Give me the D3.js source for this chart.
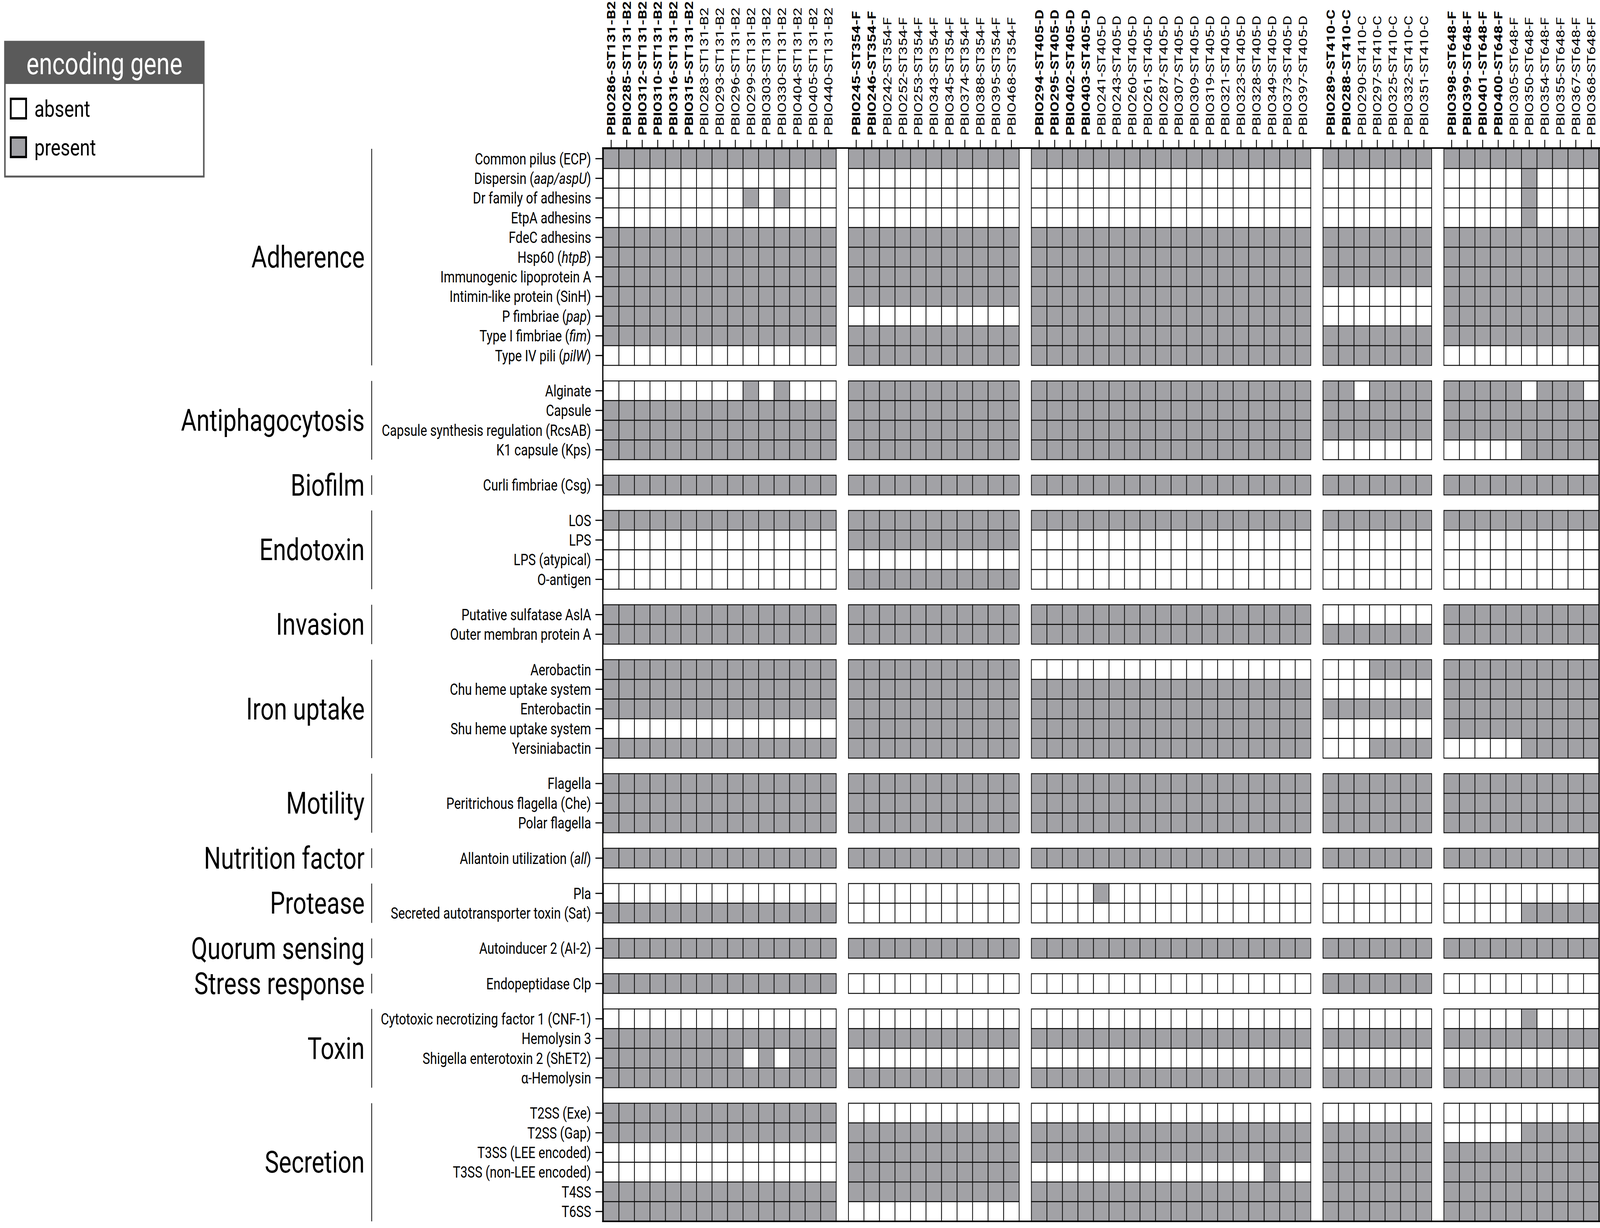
<!DOCTYPE html>
<html>
<head>
<meta charset="utf-8">
<script src="https://cdn.jsdelivr.net/npm/d3@7"></script>
<style>
  html, body { margin: 0; padding: 0; background: #ffffff; overflow: hidden; width: 100%; height: 100%; }
  svg { display: block; width: 100vw; height: 100vh; }
  svg text { font-family: Roboto, "Fira Sans", Lato, sans-serif; }
</style>
</head>
<body>
<svg id="chart" viewBox="0 0 5213 3144" preserveAspectRatio="none"></svg>
<script>
// ---------------- DATA ----------------
const strainGroups = ["ST131-B2", "ST354-F", "ST405-D", "ST410-C", "ST648-F"];

const strainIds = [
  ["PBIO286","PBIO285","PBIO312","PBIO310","PBIO316","PBIO315","PBIO283","PBIO293","PBIO296","PBIO299","PBIO303","PBIO330","PBIO404","PBIO405","PBIO440"],
  ["PBIO245","PBIO246","PBIO242","PBIO252","PBIO253","PBIO343","PBIO345","PBIO374","PBIO388","PBIO395","PBIO468"],
  ["PBIO294","PBIO295","PBIO402","PBIO403","PBIO241","PBIO243","PBIO260","PBIO261","PBIO287","PBIO307","PBIO309","PBIO319","PBIO321","PBIO323","PBIO328","PBIO349","PBIO373","PBIO397"],
  ["PBIO289","PBIO288","PBIO290","PBIO297","PBIO325","PBIO332","PBIO351"],
  ["PBIO398","PBIO399","PBIO401","PBIO400","PBIO305","PBIO350","PBIO354","PBIO355","PBIO367","PBIO368"]
];

// number of leading strains per group whose label is bold
const boldStrainCounts = [6, 2, 4, 2, 4];

const categories = ["Adherence", "Antiphagocytosis", "Biofilm", "Endotoxin", "Invasion",
  "Iron uptake", "Motility", "Nutrition factor", "Protease", "Quorum sensing",
  "Stress response", "Toxin", "Secretion"];

// gene labels; text between underscores is italic
const geneLabels = [
  "Common pilus (ECP)", "Dispersin (_aap/aspU_)", "Dr family of adhesins", "EtpA adhesins",
  "FdeC adhesins", "Hsp60 (_htpB_)", "Immunogenic lipoprotein A", "Intimin-like protein (SinH)",
  "P fimbriae (_pap_)", "Type I fimbriae (_fim_)", "Type IV pili (_pilW_)",
  "Alginate", "Capsule", "Capsule synthesis regulation (RcsAB)", "K1 capsule (Kps)",
  "Curli fimbriae (Csg)",
  "LOS", "LPS", "LPS (atypical)", "O-antigen",
  "Putative sulfatase AslA", "Outer membran protein A",
  "Aerobactin", "Chu heme uptake system", "Enterobactin", "Shu heme uptake system", "Yersiniabactin",
  "Flagella", "Peritrichous flagella (Che)", "Polar flagella",
  "Allantoin utilization (_all_)",
  "Pla", "Secreted autotransporter toxin (Sat)",
  "Autoinducer 2 (AI-2)",
  "Endopeptidase Clp",
  "Cytotoxic necrotizing factor 1 (CNF-1)", "Hemolysin 3", "Shigella enterotoxin 2 (ShET2)", "α-Hemolysin",
  "T2SS (Exe)", "T2SS (Gap)", "T3SS (LEE encoded)", "T3SS (non-LEE encoded)", "T4SS", "T6SS"
];

// category index of each gene
const geneCategory = [
  0,0,0,0,0,0,0,0,0,0,0,
  1,1,1,1,
  2,
  3,3,3,3,
  4,4,
  5,5,5,5,5,
  6,6,6,
  7,
  8,8,
  9,
  10,
  11,11,11,11,
  12,12,12,12,12,12
];

// presence (1) / absence (0), strains in the order above, groups separated by spaces
const genePresence = [
  "111111111111111 11111111111 111111111111111111 1111111 1111111111", // Common pilus
  "000000000000000 00000000000 000000000000000000 0000000 0000010000", // Dispersin
  "000000000101000 00000000000 000000000000000000 0000000 0000010000", // Dr family
  "000000000000000 00000000000 000000000000000000 0000000 0000010000", // EtpA
  "111111111111111 11111111111 111111111111111111 1111111 1111111111", // FdeC
  "111111111111111 11111111111 111111111111111111 1111111 1111111111", // Hsp60
  "111111111111111 11111111111 111111111111111111 1111111 1111111111", // ILA
  "111111111111111 11111111111 111111111111111111 0000000 1111111111", // SinH
  "111111111111111 00000000000 111111111111111111 0000000 1111111111", // P fimbriae
  "111111111111111 11111111111 111111111111111111 1111111 1111111111", // Type I
  "000000000000000 11111111111 111111111111111111 1111111 0000000000", // Type IV
  "000000000101000 11111111111 111111111111111111 1101111 1111101110", // Alginate
  "111111111111111 11111111111 111111111111111111 1111111 1111111111", // Capsule
  "111111111111111 11111111111 111111111111111111 1111111 1111111111", // RcsAB
  "111111111111111 11111111111 111111111111111111 0000000 0000011111", // K1
  "111111111111111 11111111111 111111111111111111 1111111 1111111111", // Curli
  "111111111111111 11111111111 111111111111111111 1111111 1111111111", // LOS
  "000000000000000 11111111111 000000000000000000 0000000 0000000000", // LPS
  "000000000000000 00000000000 000000000000000000 0000000 0000000000", // LPS atypical
  "000000000000000 11111111111 000000000000000000 0000000 0000000000", // O-antigen
  "111111111111111 11111111111 111111111111111111 0000000 1111111111", // AslA
  "111111111111111 11111111111 111111111111111111 1111111 1111111111", // OmpA
  "111111111111111 11111111111 000000000000000000 0001111 1111111111", // Aerobactin
  "111111111111111 11111111111 111111111111111111 0000000 1111111111", // Chu
  "111111111111111 11111111111 111111111111111111 1111111 1111111111", // Enterobactin
  "000000000000000 11111111111 111111111111111111 0000000 1111111111", // Shu
  "111111111111111 11111111111 111111111111111111 0001111 0000011111", // Yersiniabactin
  "111111111111111 11111111111 111111111111111111 1111111 1111111111", // Flagella
  "111111111111111 11111111111 111111111111111111 1111111 1111111111", // Che
  "111111111111111 11111111111 111111111111111111 1111111 1111111111", // Polar flagella
  "111111111111111 11111111111 111111111111111111 1111111 1111111111", // Allantoin
  "000000000000000 00000000000 000010000000000000 0000000 0000000000", // Pla
  "111111111111111 00000000000 000000000000000000 0000000 0000011111", // Sat
  "111111111111111 11111111111 111111111111111111 1111111 1111111111", // AI-2
  "111111111111111 00000000000 000000000000000000 1111111 0000000000", // Clp
  "000000000000000 00000000000 000000000000000000 0000000 0000010000", // CNF-1
  "111111111111111 11111111111 111111111111111111 1111111 1111111111", // Hemolysin 3
  "111111111010111 00000000000 000000000000000000 0000000 0000000000", // ShET2
  "111111111111111 11111111111 111111111111111111 1111111 1111111111", // alpha-Hemolysin
  "111111111111111 00000000000 000000000000000000 0000000 0000000000", // T2SS Exe
  "111111111111111 11111111111 111111111111111111 1111111 0000011111", // T2SS Gap
  "000000000000000 11111111111 111111111111111111 1111111 1111111111", // T3SS LEE
  "000000000000000 11111111111 000000000000000100 1111111 1111111111", // T3SS non-LEE
  "111111111111111 11111111111 111111111111111111 1111111 1111111111", // T4SS
  "111111111111111 00000000000 111111111111111111 1111111 1111111111"  // T6SS
];

const legendTitle = "encoding gene";
const legendLabels = ["absent", "present"];

// ---------------- LAYOUT ----------------
const W = 5213, H = 3144;
const gridLeft = 1966, gridRight = 5210, gridTop = 381, gridBottom = 3127;
const gapUnits = 0.79;
const presentFill = "#a2a2a6", absentFill = "#ffffff";

const svg = d3.select("#chart");
svg.append("rect").attr("x", 0).attr("y", 0).attr("width", W).attr("height", H).attr("fill", "#fff");

// columns
const columns = [];
strainIds.forEach((ids, g) => {
  ids.forEach((id, i) => {
    columns.push({ label: id + "-" + strainGroups[g], group: g, bold: i < boldStrainCounts[g],
                   pos: columns.length + g * gapUnits });
  });
});
const nColUnits = columns.length + (strainGroups.length - 1) * gapUnits;
const x = d3.scaleLinear().domain([0, nColUnits]).range([gridLeft, gridRight]);
const cw = x(1) - x(0);

// rows
const rows = geneLabels.map((lab, r) => ({ label: lab, cat: geneCategory[r], pos: r + geneCategory[r] * gapUnits }));
const nRowUnits = rows.length + (categories.length - 1) * gapUnits;
const y = d3.scaleLinear().domain([0, nRowUnits]).range([gridTop, gridBottom]);
const ch = y(1) - y(0);

// cells
const cells = [];
rows.forEach((row, r) => {
  const flags = genePresence[r].replace(/ /g, "");
  columns.forEach((col, c) => {
    cells.push({ r, c, present: flags[c] === "1", row, col });
  });
});

svg.append("g").attr("class", "cells")
  .selectAll("rect").data(cells).join("rect")
  .attr("x", d => x(d.col.pos))
  .attr("y", d => y(d.row.pos))
  .attr("width", cw)
  .attr("height", ch)
  .attr("fill", d => d.present ? presentFill : absentFill)
  .attr("stroke", "#111")
  .attr("stroke-width", 2.5);

// axis frame
const frame = svg.append("g").attr("stroke", "#000").attr("fill", "none");
frame.append("line").attr("x1", gridLeft - 4).attr("x2", W).attr("y1", gridTop - 2).attr("y2", gridTop - 2).attr("stroke-width", 4);
frame.append("line").attr("x1", gridLeft - 2).attr("x2", gridLeft - 2).attr("y1", gridTop - 4).attr("y2", gridBottom + 2).attr("stroke-width", 4);
frame.append("line").attr("x1", gridRight).attr("x2", gridRight).attr("y1", gridTop - 4).attr("y2", gridBottom + 2).attr("stroke-width", 4);
frame.append("line").attr("x1", gridLeft - 4).attr("x2", W).attr("y1", gridBottom).attr("y2", gridBottom).attr("stroke-width", 4);

// top ticks + column labels
const colG = svg.append("g");
colG.selectAll("line").data(columns).join("line")
  .attr("x1", d => x(d.pos + 0.5)).attr("x2", d => x(d.pos + 0.5))
  .attr("y1", gridTop - 23).attr("y2", gridTop - 2)
  .attr("stroke", "#000").attr("stroke-width", 3);
colG.selectAll("text").data(columns).join("text")
  .attr("transform", d => `translate(${x(d.pos + 0.5)},${gridTop - 34}) rotate(-90)`)
  .attr("text-anchor", "start")
  .attr("dominant-baseline", "central")
  .attr("font-size", 38.5)
  .attr("font-weight", d => d.bold ? 700 : 400)
  .attr("fill", "#000")
  .text(d => d.label);

// left ticks + row labels
const rowG = svg.append("g");
rowG.selectAll("line").data(rows).join("line")
  .attr("x1", gridLeft - 26).attr("x2", gridLeft - 2)
  .attr("y1", d => y(d.pos + 0.5)).attr("y2", d => y(d.pos + 0.5))
  .attr("stroke", "#000").attr("stroke-width", 3);
const rowText = rowG.selectAll("text").data(rows).join("text")
  .attr("x", gridLeft - 40)
  .attr("y", d => y(d.pos + 0.5))
  .attr("text-anchor", "end")
  .attr("dominant-baseline", "central")
  .attr("font-size", 41)
  .attr("fill", "#000");
rowText.each(function(d) {
  const parts = d.label.split("_");
  const t = d3.select(this);
  parts.forEach((p, i) => {
    if (p.length === 0) return;
    t.append("tspan").attr("font-style", i % 2 === 1 ? "italic" : "normal").text(p);
  });
});

// category brackets + labels
const catG = svg.append("g");
categories.forEach((cat, ci) => {
  const rs = rows.filter(r => r.cat === ci);
  const top = y(rs[0].pos), bot = y(rs[rs.length - 1].pos + 1);
  catG.append("line")
    .attr("x1", 1211).attr("x2", 1211).attr("y1", top).attr("y2", bot)
    .attr("stroke", "#000").attr("stroke-width", 2.5);
  catG.append("text")
    .attr("x", 1188).attr("y", (top + bot) / 2)
    .attr("text-anchor", "end").attr("dominant-baseline", "central")
    .attr("font-size", 77.5).attr("fill", "#000")
    .text(cat);
});

// legend
const lg = svg.append("g");
lg.append("rect").attr("x", 16).attr("y", 107).attr("width", 648).attr("height", 345)
  .attr("fill", "#fff").attr("stroke", "#5a5a5a").attr("stroke-width", 5);
lg.append("rect").attr("x", 16).attr("y", 107).attr("width", 648).attr("height", 108)
  .attr("fill", "#5a5a5a");
lg.append("text").attr("x", 340).attr("y", 163)
  .attr("text-anchor", "middle").attr("dominant-baseline", "central")
  .attr("font-size", 78).attr("fill", "#fff").text(legendTitle);
legendLabels.forEach((lab, i) => {
  const cy = 278 + i * 99;
  lg.append("rect").attr("x", 35).attr("y", cy - 25).attr("width", 50).attr("height", 50)
    .attr("fill", i === 0 ? absentFill : presentFill).attr("stroke", "#000").attr("stroke-width", 6);
  lg.append("text").attr("x", 112).attr("y", cy)
    .attr("dominant-baseline", "central").attr("font-size", 60).attr("fill", "#000").text(lab);
});
</script>
</body>
</html>
